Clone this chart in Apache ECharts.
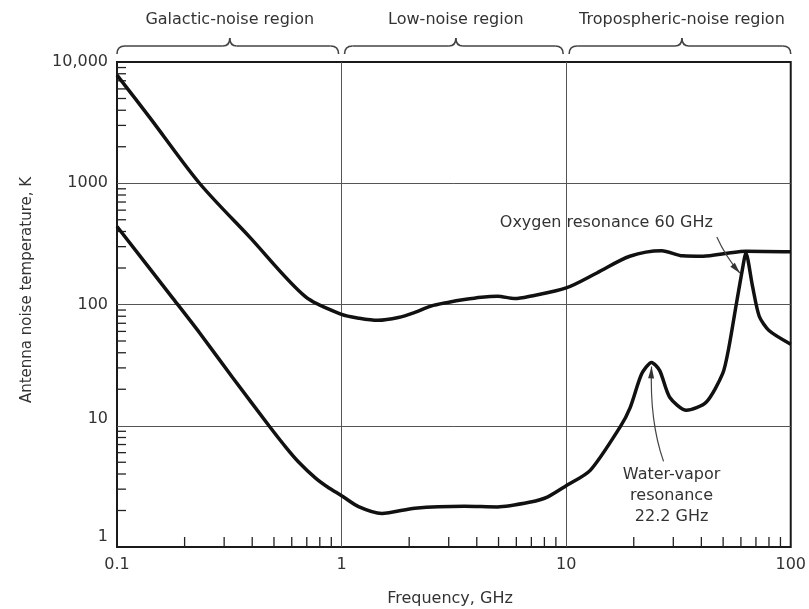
<!DOCTYPE html>
<html>
<head>
<meta charset="utf-8">
<script src="https://cdn.jsdelivr.net/npm/echarts@6/dist/echarts.min.js"></script>
<style>
html,body{margin:0;padding:0;background:#fff;}
#chart{width:809px;height:609px;}
</style>
</head>
<body>
<div id="chart"></div>
<script>
// ---- data ----
const upperFreq = [0.1, 0.14, 0.233, 0.388, 0.69, 1.0, 1.2, 1.45, 1.79, 2.12, 2.5, 2.97, 3.52, 4.2, 4.95, 5.9, 6.9, 10, 13.7, 19.2, 26.6, 33, 40.7, 53, 63, 100];
const upperTemp = [7800, 3480, 1000, 363, 116, 83, 77, 74, 78, 86, 97, 104, 110, 115, 117, 112, 117, 137, 182, 250, 278, 252, 250, 266, 275, 272];

const lowerFreq = [0.1, 0.177, 0.233, 0.327, 0.475, 0.564, 0.645, 0.766, 0.876, 1.0, 1.19, 1.51, 2.12, 3.52, 4.95, 6.95, 8.24, 10, 12.8, 17.4, 19.3, 21.7, 24, 26.1, 28.9, 34.3, 42, 49.8, 53, 57.2, 62, 63.1, 67.6, 72.4, 80, 100];
const lowerTemp = [440, 113, 58.5, 25, 10, 6.67, 5.0, 3.7, 3.08, 2.65, 2.15, 1.89, 2.09, 2.17, 2.14, 2.35, 2.58, 3.2, 4.29, 9.8, 14.2, 26.8, 33.3, 28.5, 17.2, 13.4, 15.6, 27, 44, 100, 234, 266, 141, 80, 61, 47];

const xTickValues = [0.1, 1, 10, 100];
const xTickLabels = ['0.1', '1', '10', '100'];
const yTickValues = [1, 10, 100, 1000, 10000];
const yTickLabels = ['1', '10', '100', '1000', '10,000'];
const yTickRaise = [20, 14, 0, 0, 0];

const xMinorTicks = [0.2,0.3,0.4,0.5,0.6,0.7,0.8,0.9, 2,3,4,5,6,7,8,9, 20,30,40,50,60,70,80,90];
const yMinorTicks = [2,3,4,5,6,7,8,9, 20,30,40,50,60,70,80,90, 200,300,400,500,600,700,800,900, 2000,3000,4000,5000,6000,7000,8000,9000];

const regionNames = ['Galactic-noise region', 'Low-noise region', 'Tropospheric-noise region'];
const regionStart = [0.1, 1, 10];
const regionEnd = [1, 10, 100];

const oxygenLabel = 'Oxygen resonance 60 GHz';
const oxygenPeak = [63.1, 266];
const waterLabel = ['Water-vapor', 'resonance', '22.2 GHz'];
const waterPeak = [24, 33.3];

const xName = 'Frequency, GHz';
const yName = 'Antenna noise temperature, K';

// ---- chart ----
const FONT = 'DejaVu Sans';
const TXT = '#333';
const chart = echarts.init(document.getElementById('chart'), null, {renderer: 'canvas'});

function zip(a, b) { return a.map((v, i) => [v, b[i]]); }
function findTick(vals, v) { return vals.findIndex(t => Math.abs(Math.log10(t) - Math.log10(v)) < 1e-6); }

const yRich = {};
yTickRaise.forEach((r, i) => { yRich['r' + i] = {padding: [0, 0, r, 0], fontSize: 16, fontFamily: FONT, color: TXT}; });

const option = {
  animation: false,
  backgroundColor: '#fff',
  grid: {left: 117, right: 14, top: 62, bottom: 62, show: true, borderColor: '#1a1a1a', borderWidth: 2, backgroundColor: 'transparent'},
  xAxis: {
    type: 'log', logBase: 10, min: 0.1, max: 100, interval: 1,
    axisLine: {show: false}, axisTick: {show: false},
    splitLine: {show: true, showMinLine: false, showMaxLine: false, lineStyle: {color: '#555', width: 1}},
    axisLabel: {
      margin: 10, fontSize: 16, fontFamily: FONT, color: TXT, showMinLabel: true, showMaxLabel: true,
      formatter: v => { const i = findTick(xTickValues, v); return i >= 0 ? xTickLabels[i] : ''; }
    }
  },
  yAxis: {
    type: 'log', logBase: 10, min: 1, max: 10000, interval: 1,
    axisLine: {show: false}, axisTick: {show: false},
    splitLine: {show: true, showMinLine: false, showMaxLine: false, lineStyle: {color: '#555', width: 1}},
    axisLabel: {
      margin: 9, fontSize: 16, fontFamily: FONT, color: TXT, showMinLabel: true, showMaxLabel: true,
      rich: yRich,
      formatter: v => { const i = findTick(yTickValues, v); return i >= 0 ? '{r' + i + '|' + yTickLabels[i] + '}' : ''; }
    }
  },
  series: [
    {
      type: 'line', data: zip(upperFreq, upperTemp), showSymbol: false, symbol: 'none',
      smooth: 0.3,
      lineStyle: {color: '#111', width: 3.5}, z: 5
    },
    {
      type: 'line', data: zip(lowerFreq, lowerTemp), showSymbol: false, symbol: 'none',
      smooth: 0.25,
      lineStyle: {color: '#111', width: 3.5}, z: 5
    },
    {
      type: 'custom', silent: true, clip: false, z: 3,
      data: xMinorTicks.map(v => [v, 1]),
      renderItem: (params, api) => {
        const p = api.coord([api.value(0), api.value(1)]);
        return {type: 'line', shape: {x1: p[0], y1: p[1], x2: p[0], y2: p[1] - 10}, style: {stroke: '#222', lineWidth: 1.3}};
      }
    },
    {
      type: 'custom', silent: true, clip: false, z: 3,
      data: yMinorTicks.map(v => [0.1, v]),
      renderItem: (params, api) => {
        const p = api.coord([api.value(0), api.value(1)]);
        return {type: 'line', shape: {x1: p[0], y1: p[1], x2: p[0] + 9, y2: p[1]}, style: {stroke: '#222', lineWidth: 1.3}};
      }
    }
  ]
};
chart.setOption(option);

// ---- annotations positioned from data coordinates ----
function px(pt) { return chart.convertToPixel({xAxisIndex: 0, yAxisIndex: 0}, pt); }
function arrowHead(tip, from, len, half) {
  const dx = tip[0] - from[0], dy = tip[1] - from[1];
  const d = Math.sqrt(dx * dx + dy * dy);
  const ux = dx / d, uy = dy / d;
  const bx = tip[0] - ux * len, by = tip[1] - uy * len;
  return [[tip[0], tip[1]], [bx - uy * half, by + ux * half], [bx + uy * half, by - ux * half]];
}
function quad(p0, c, p1, color, w) {
  return {type: 'bezierCurve', shape: {x1: p0[0], y1: p0[1], cpx1: c[0], cpy1: c[1], x2: p1[0], y2: p1[1]}, style: {stroke: color, lineWidth: w, fill: null}, z: 10};
}
function seg(p0, p1, color, w) {
  return {type: 'line', shape: {x1: p0[0], y1: p0[1], x2: p1[0], y2: p1[1]}, style: {stroke: color, lineWidth: w}, z: 10};
}

const graphics = [];
const braceColor = '#444';
const yBot = 54, yBar = 46, yCusp = 38;
for (let i = 0; i < regionNames.length; i++) {
  const x0 = px([regionStart[i], 1])[0] + (i === 0 ? 0 : 3);
  const x1 = px([regionEnd[i], 1])[0] - (i === regionNames.length - 1 ? 0 : 3);
  const xc = (x0 + x1) / 2 + 2;
  graphics.push(quad([x0, yBot], [x0, yBar], [x0 + 8, yBar], braceColor, 1.6));
  graphics.push(seg([x0 + 8, yBar], [xc - 7, yBar], braceColor, 1.6));
  graphics.push(quad([xc - 7, yBar], [xc, yBar], [xc, yCusp], braceColor, 1.6));
  graphics.push(quad([xc, yCusp], [xc, yBar], [xc + 7, yBar], braceColor, 1.6));
  graphics.push(seg([xc + 7, yBar], [x1 - 8, yBar], braceColor, 1.6));
  graphics.push(quad([x1 - 8, yBar], [x1, yBar], [x1, yBot], braceColor, 1.6));
  graphics.push({type: 'text', x: xc, y: 20, style: {text: regionNames[i], font: `16px "${FONT}"`, fill: TXT, textAlign: 'center', textVerticalAlign: 'middle'}, z: 10});
}

// oxygen annotation
const op = px(oxygenPeak);
const oHead = [op[0] - 6, op[1] + 20];
const oTail = [oHead[0] - 23, oHead[1] - 36];
const oCtrl = [oTail[0] + 9, oTail[1] + 20];
graphics.push(quad(oTail, oCtrl, oHead, '#444', 1.2));
graphics.push({type: 'polygon', shape: {points: arrowHead(oHead, oCtrl, 11, 3)}, style: {fill: '#333'}, z: 10});
graphics.push({type: 'text', x: oTail[0] - 4, y: oTail[1] - 14, style: {text: oxygenLabel, font: `16px "${FONT}"`, fill: TXT, textAlign: 'right', textVerticalAlign: 'middle'}, z: 10});

// water-vapor annotation
const wp = px(waterPeak);
const wHead = [wp[0], wp[1] + 4];
const wTail = [wHead[0] + 12, wHead[1] + 95];
const wCtrl = [wHead[0] - 2, wHead[1] + 55];
graphics.push(quad(wTail, wCtrl, wHead, '#444', 1.2));
graphics.push({type: 'polygon', shape: {points: arrowHead(wHead, wCtrl, 12, 3)}, style: {fill: '#333'}, z: 10});
for (let i = 0; i < waterLabel.length; i++) {
  graphics.push({type: 'text', x: wTail[0] + 8, y: wTail[1] + 13 + i * 21, style: {text: waterLabel[i], font: `16px "${FONT}"`, fill: TXT, textAlign: 'center', textVerticalAlign: 'middle'}, z: 10});
}

// axis names
graphics.push({type: 'text', x: 450, y: 599, style: {text: xName, font: `16px "${FONT}"`, fill: TXT, textAlign: 'center', textVerticalAlign: 'middle'}, z: 10});
graphics.push({type: 'text', x: 27, y: 290, rotation: Math.PI / 2, style: {text: yName, font: `15px "${FONT}"`, fill: TXT, textAlign: 'center', textVerticalAlign: 'middle'}, z: 10});

chart.setOption({graphic: {elements: graphics}});
</script>
</body>
</html>
